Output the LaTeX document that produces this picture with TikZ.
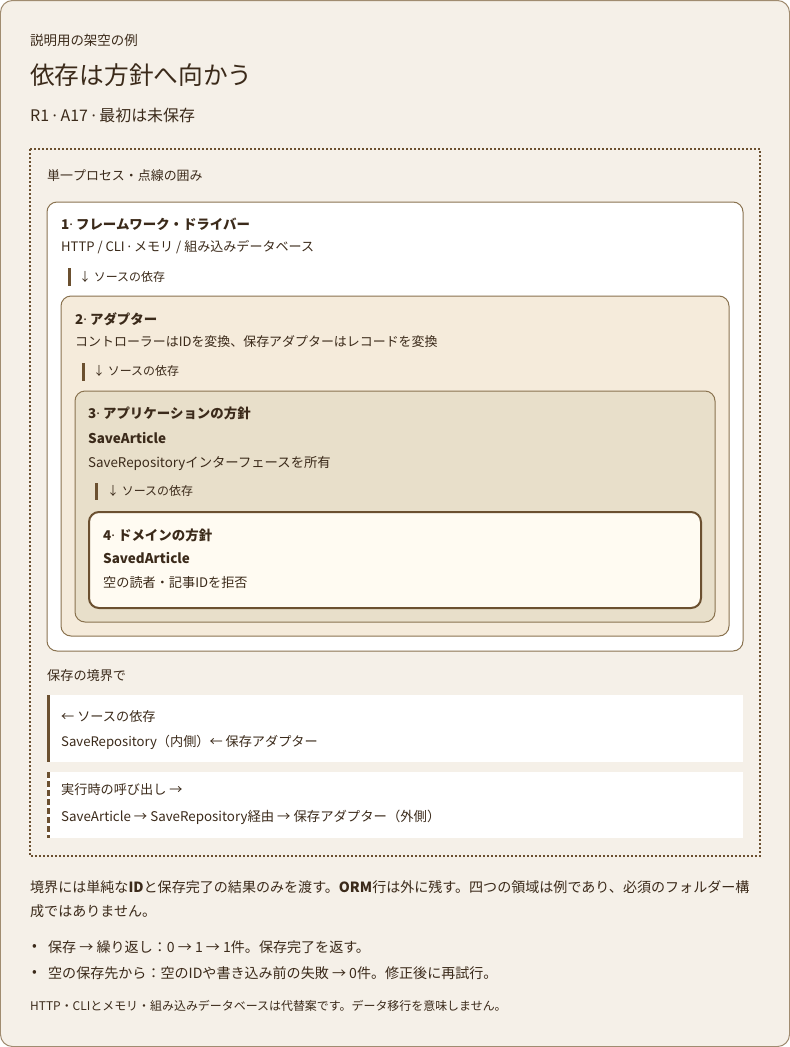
\documentclass[tikz,border=0pt]{standalone}
\usepackage{fontspec}
\setmainfont{Noto Sans CJK JP}
\newfontfamily\latin{Noto Sans}
\newcommand{\md}{{\latin ·}}
\definecolor{paper}{HTML}{F5F0E8}
\definecolor{ink}{HTML}{3B2A1A}
\definecolor{edge}{HTML}{A08C70}
\definecolor{rim}{HTML}{8A7350}
\definecolor{bark}{HTML}{6B5030}
\definecolor{sand}{HTML}{F5EBDB}
\definecolor{clay}{HTML}{E8DFCA}
\definecolor{cream}{HTML}{FFFBF2}
\tikzset{
  fs/.style={font=\fontsize{#1}{#1}\selectfont},
  layer/.style={draw=rim, line width=1bp, rounded corners=10bp},
  bar/.style={draw=bark, line width=3bp},
}
\begin{document}
\begin{tikzpicture}[x=1bp,y=-1bp]
		\tikzstyle{every node}+=[inner sep=0pt, anchor=west, text=ink]
		\useasboundingbox (0,0) rectangle (790,1047);
		\draw [draw=edge, fill=paper, line width=1bp, rounded corners=12bp] (0.5,0.5) rectangle (789.5,1046.5);
		\node (kicker) at (30,40) [fs=13.5] {説明用の架空の例};
		\node (title) at (30,75) [fs=24.8] {依存は方針へ向かう};
		\node (sub) at (30,115) [fs=16] {R1 \md{} A17 \md{} 最初は未保存};
		\draw [draw=bark, line width=1.6bp, dash pattern=on 2bp off 2bp] (30,149) rectangle (760,856);
		\node (proc) at (47,176) [fs=13] {単一プロセス・点線の囲み};
		\draw [layer, fill=white] (47,202) rectangle (743,651);
		\node (l1) at (61,224) [fs=13.5] {\bfseries 1\md{} フレームワーク・ドライバー};
		\node (l1t) at (61,247) [fs=13.1] {HTTP / CLI \md{} メモリ / 組み込みデータベース};
		\draw [bar] (69,268) -- (69,286);
		\node (d1) at (79,277) [fs=12] {↓ ソースの依存};
		\draw [layer, fill=sand] (61,296) rectangle (729,636);
		\node (l2) at (75,319) [fs=13.5] {\bfseries 2\md{} アダプター};
		\node (l2t) at (75,342) [fs=13] {コントローラーはIDを変換、保存アダプターはレコードを変換};
		\draw [bar] (83,363) -- (83,381);
		\node (d2) at (93,371) [fs=12] {↓ ソースの依存};
		\draw [layer, fill=clay] (75,391) rectangle (715,622);
		\node (l3) at (88,413) [fs=13.5] {\bfseries 3\md{} アプリケーションの方針};
		\node (l3a) at (88,438) [fs=13.5] {\bfseries SaveArticle};
		\node (l3t) at (88,463) [fs=13.4] {SaveRepositoryインターフェースを所有};
		\draw [bar] (96,483) -- (96,500);
		\node (d3) at (107,491) [fs=12] {↓ ソースの依存};
		\draw [draw=bark, fill=cream, line width=2bp, rounded corners=10bp] (89,512) rectangle (701,608);
		\node (l4) at (103,535) [fs=13.5] {\bfseries 4\md{} ドメインの方針};
		\node (l4a) at (103,558) [fs=13.5] {\bfseries SavedArticle};
		\node (l4t) at (103,583) [fs=13.2] {空の読者・記事IDを拒否};
		\node (edgeh) at (47,676) [fs=13.2] {保存の境界で};
		\fill [white] (47,695) rectangle (743,762);
		\draw [bar] (48.5,695) -- (48.5,762);
		\node (srch) at (61,716) [fs=13.2] {← ソースの依存};
		\node (srct) at (61,742) [fs=13.2] {SaveRepository（内側）← 保存アダプター};
		\fill [white] (47,772) rectangle (743,838);
		\draw [bar, dash pattern=on 6bp off 3bp] (48.5,772) -- (48.5,838);
		\node (runh) at (61,790) [fs=13.2] {実行時の呼び出し →};
		\node (runt) at (61,817) [fs=13.4] {SaveArticle → SaveRepository経由 → 保存アダプター（外側）};
		\node (para1) at (30,887) [fs=14.1] {境界には単純な\textbf{ID}と保存完了の結果のみを渡す。\textbf{ORM}行は外に残す。四つの領域は例であり、必須のフォルダー構};
		\node (para2) at (30,911) [fs=14.1] {成ではありません。};
		\node (dot1) at (32,947) [fs=14] {•};
		\node (item1) at (48,947) [fs=14.1] {保存 → 繰り返し：0 → 1 → 1件。保存完了を返す。};
		\node (dot2) at (32,973) [fs=14] {•};
		\node (item2) at (48,973) [fs=14.1] {空の保存先から：空のIDや書き込み前の失敗 → 0件。修正後に再試行。};
		\node (foot) at (30,1006) [fs=12] {HTTP・CLIとメモリ・組み込みデータベースは代替案です。データ移行を意味しません。};
\end{tikzpicture}
\end{document}
